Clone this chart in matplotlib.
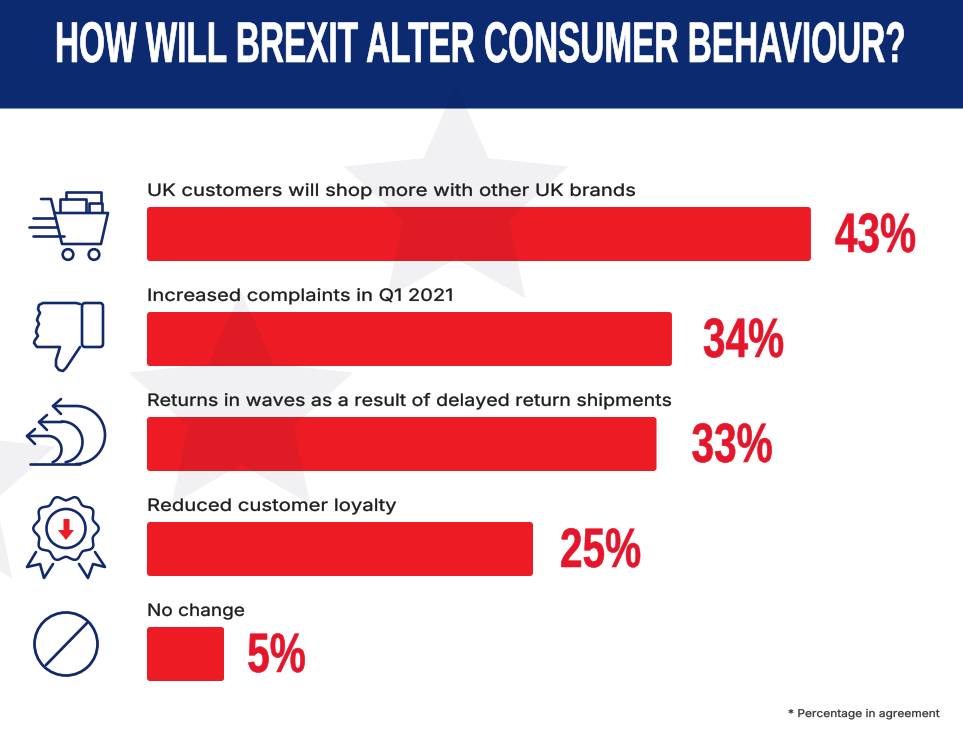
import numpy as np
import matplotlib
matplotlib.use('Agg')
import matplotlib.pyplot as plt
from matplotlib.patches import Rectangle, Polygon, Circle, FancyBboxPatch
from matplotlib.patheffects import AbstractPathEffect
from matplotlib.transforms import Affine2D

# Data
categories = ['UK customers will shop more with other UK brands',
              'Increased complaints in Q1 2021',
              'Returns in waves as a result of delayed return shipments',
              'Reduced customer loyalty',
              'No change']
values = [43, 34, 33, 25, 5]
title = 'HOW WILL BREXIT ALTER CONSUMER BEHAVIOUR?'
footnote = '* Percentage in agreement'

NAVY = '#0c2a70'
ICON = '#12296b'
RED = '#ed1c24'
W, H = 963, 739
PX_PER_PCT = 15.44
PX_PER_ROW = 105


# No condensed font is installed, so stretch the glyphs vertically from the baseline
class Tall(AbstractPathEffect):
    def __init__(self, sy, stroke=0.0):
        super().__init__()
        self.sy = sy
        self.stroke = stroke

    def draw_path(self, renderer, gc, tpath, affine, rgbFace=None):
        y0 = affine.get_matrix()[1, 2]
        tall = affine + Affine2D().translate(0, -y0).scale(1, self.sy).translate(0, y0)
        gc0 = renderer.new_gc()
        gc0.copy_properties(gc)
        gc0.set_linewidth(self.stroke)
        gc0.set_foreground(rgbFace)
        renderer.draw_path(gc0, tpath, tall, rgbFace)
        gc0.restore()


fig = plt.figure(figsize=(W / 100, H / 100), dpi=100, facecolor='white')
ax = fig.add_axes([0, 0, 1, 1])
ax.set_xlim(-147 / PX_PER_PCT, (W - 147) / PX_PER_PCT)
ax.set_ylim((H - 234) / PX_PER_ROW, -234 / PX_PER_ROW)
ax.axis('off')

# pixel coordinates for the decoration, y going down
px = Affine2D().scale(1 / W, -1 / H).translate(0, 1) + ax.transAxes

# Banner
ax.add_patch(Rectangle((0, 0), W, 108, color=NAVY, transform=px, zorder=1, lw=0))
ax.plot([0, W], [108.3, 108.3], color='#6f8bc0', lw=0.7, transform=px, zorder=1)
ax.text(55, 62, title, transform=px, color='white', fontsize=24, fontweight='bold',
        family=['Liberation Sans', 'DejaVu Sans'], ha='left', va='baseline', zorder=6,
        path_effects=[Tall(1.72, 0.5)])


# Background stars, drawn over the bars so they tint them
def star(cx, cy, r=118, inner=0.47):
    ang = np.deg2rad(np.arange(10) * 36)
    rad = np.where(np.arange(10) % 2 == 0, r, r * inner)
    return np.column_stack([cx + rad * np.sin(ang), cy - rad * np.cos(ang)])


for cx, cy in [(456, 203), (241, 409), (-57, 483)]:
    ax.add_patch(Polygon(star(cx, cy), closed=True, facecolor='#000a46', alpha=0.055,
                         lw=0, transform=px, zorder=3))

# Bars
bar_h = 54 / PX_PER_ROW
bars = ax.barh(range(len(values)), values, height=bar_h, color=RED, zorder=2)
for bar in bars:
    rounded = FancyBboxPatch((bar.get_x(), bar.get_y()), bar.get_width(), bar.get_height(),
                             boxstyle='round,pad=0,rounding_size=%f' % (3 / PX_PER_PCT),
                             mutation_aspect=PX_PER_PCT / PX_PER_ROW, transform=ax.transData)
    bar.set_clip_path(rounded)

# Labels
value_gaps = [24, 31, 35, 27, 23]
label_sizes = [14.6, 14.5, 14.1, 14.6, 13.7]
for i, (cat, val) in enumerate(zip(categories, values)):
    ax.annotate(cat, (0, i - bar_h / 2), xytext=(0, 8), textcoords='offset points',
                fontsize=label_sizes[i], color='#1c1c1c', family=['Inter', 'DejaVu Sans'],
                va='baseline', ha='left', zorder=6,
                path_effects=[Tall(12.3 / (0.727 * label_sizes[i] * 100 / 72), 0.25)])
    ax.annotate('%d%%' % val, (val, i), xytext=(value_gaps[i] * 0.72, -18 * 0.72), textcoords='offset points',
                fontsize=29.2, fontweight='bold', color='#e5152b',
                family=['Liberation Sans', 'DejaVu Sans'],
                va='baseline', ha='left', zorder=6, path_effects=[Tall(1.37, 0.4)])

ax.text(940, 717, footnote, transform=px, fontsize=8.6, color='#333333',
        family=['Inter', 'DejaVu Sans'], ha='right', va='baseline', zorder=6,
        path_effects=[Tall(0.9, 0.2)])


# Icons
def line(pts, color=ICON, lw=1.9):
    pts = np.array(pts, dtype=float)
    ax.plot(pts[:, 0], pts[:, 1], color=color, lw=lw, transform=px, zorder=5,
            solid_capstyle='round', solid_joinstyle='round')


def arc(cx, cy, r, a0, a1):
    t = np.deg2rad(np.linspace(a0, a1, 60))
    return np.column_stack([cx + r * np.cos(t), cy + r * np.sin(t)])


# cart
line([(41, 199), (51, 199), (62, 244), (101, 244), (108, 213), (55, 213)])
line([(33, 218), (55, 218)])
line([(29, 227), (57, 227)])
line([(33, 236), (64, 236)])
line([(60, 212), (60, 199), (86, 199), (86, 212)])
line([(66, 199), (66, 192), (101, 192), (101, 203)])
line([(89, 212), (89, 203), (102, 203), (102, 212)])
for wx in (68, 94):
    ax.add_patch(Circle((wx, 254.5), 5.3, fill=False, ec=ICON, lw=1.9, transform=px, zorder=5))

# thumb down
ax.add_patch(FancyBboxPatch((82, 303), 21, 44, boxstyle='round,pad=0,rounding_size=3',
                            fill=False, ec=ICON, lw=1.9, transform=px, zorder=5))
line([(80, 304), (76, 303), (43, 303), (39, 305), (38, 309), (40, 313), (38, 317), (37, 320),
      (39, 324), (37, 328), (36, 332), (38, 336), (35, 340), (34, 343), (37, 347), (60, 347),
      (56, 360), (56, 366), (59, 370), (63, 371), (66, 368), (80, 347)])

# return arrows
line([(30, 463.5), (80, 463.5)])
line(np.vstack([[(53, 406), (76, 406)], arc(76, 435, 29, -90, 90)]))
line([(61, 399), (53, 406), (61, 414)])
line(np.vstack([[(39, 422), (62, 422)], arc(62, 442, 20.5, -90, 80)]))
line([(47, 415), (39, 422), (47, 430)])
line(np.vstack([[(27, 436), (48, 436)], arc(48, 449.5, 13.5, -90, 70)]))
line([(35, 429), (27, 436), (35, 444)])

# rosette
t = np.linspace(0, 2 * np.pi, 400)
rr = 30.5 + 2.2 * np.cos(10 * t + np.pi)
line(np.column_stack([66 + rr * np.sin(t), 528.5 - rr * np.cos(t)]), lw=1.8)
ax.add_patch(Circle((66, 528.5), 19.5, fill=False, ec=ICON, lw=1.9, transform=px, zorder=5))
ax.add_patch(Polygon([(63.5, 519), (69.5, 519), (69.5, 530), (74, 530), (66, 540), (58, 530), (63.5, 530)],
                     closed=True, fc=RED, lw=0, transform=px, zorder=5))
line([(36, 552), (27, 567), (40, 564), (44, 578), (53, 564)])
line([(95, 552), (105, 567), (93, 564), (88, 578), (79, 564)])

# no sign
ax.add_patch(Circle((66, 644), 31.5, fill=False, ec=ICON, lw=2.0, transform=px, zorder=5))
line([(87, 623), (46, 665)], lw=2.0)

fig.savefig('out.png', dpi=100)
